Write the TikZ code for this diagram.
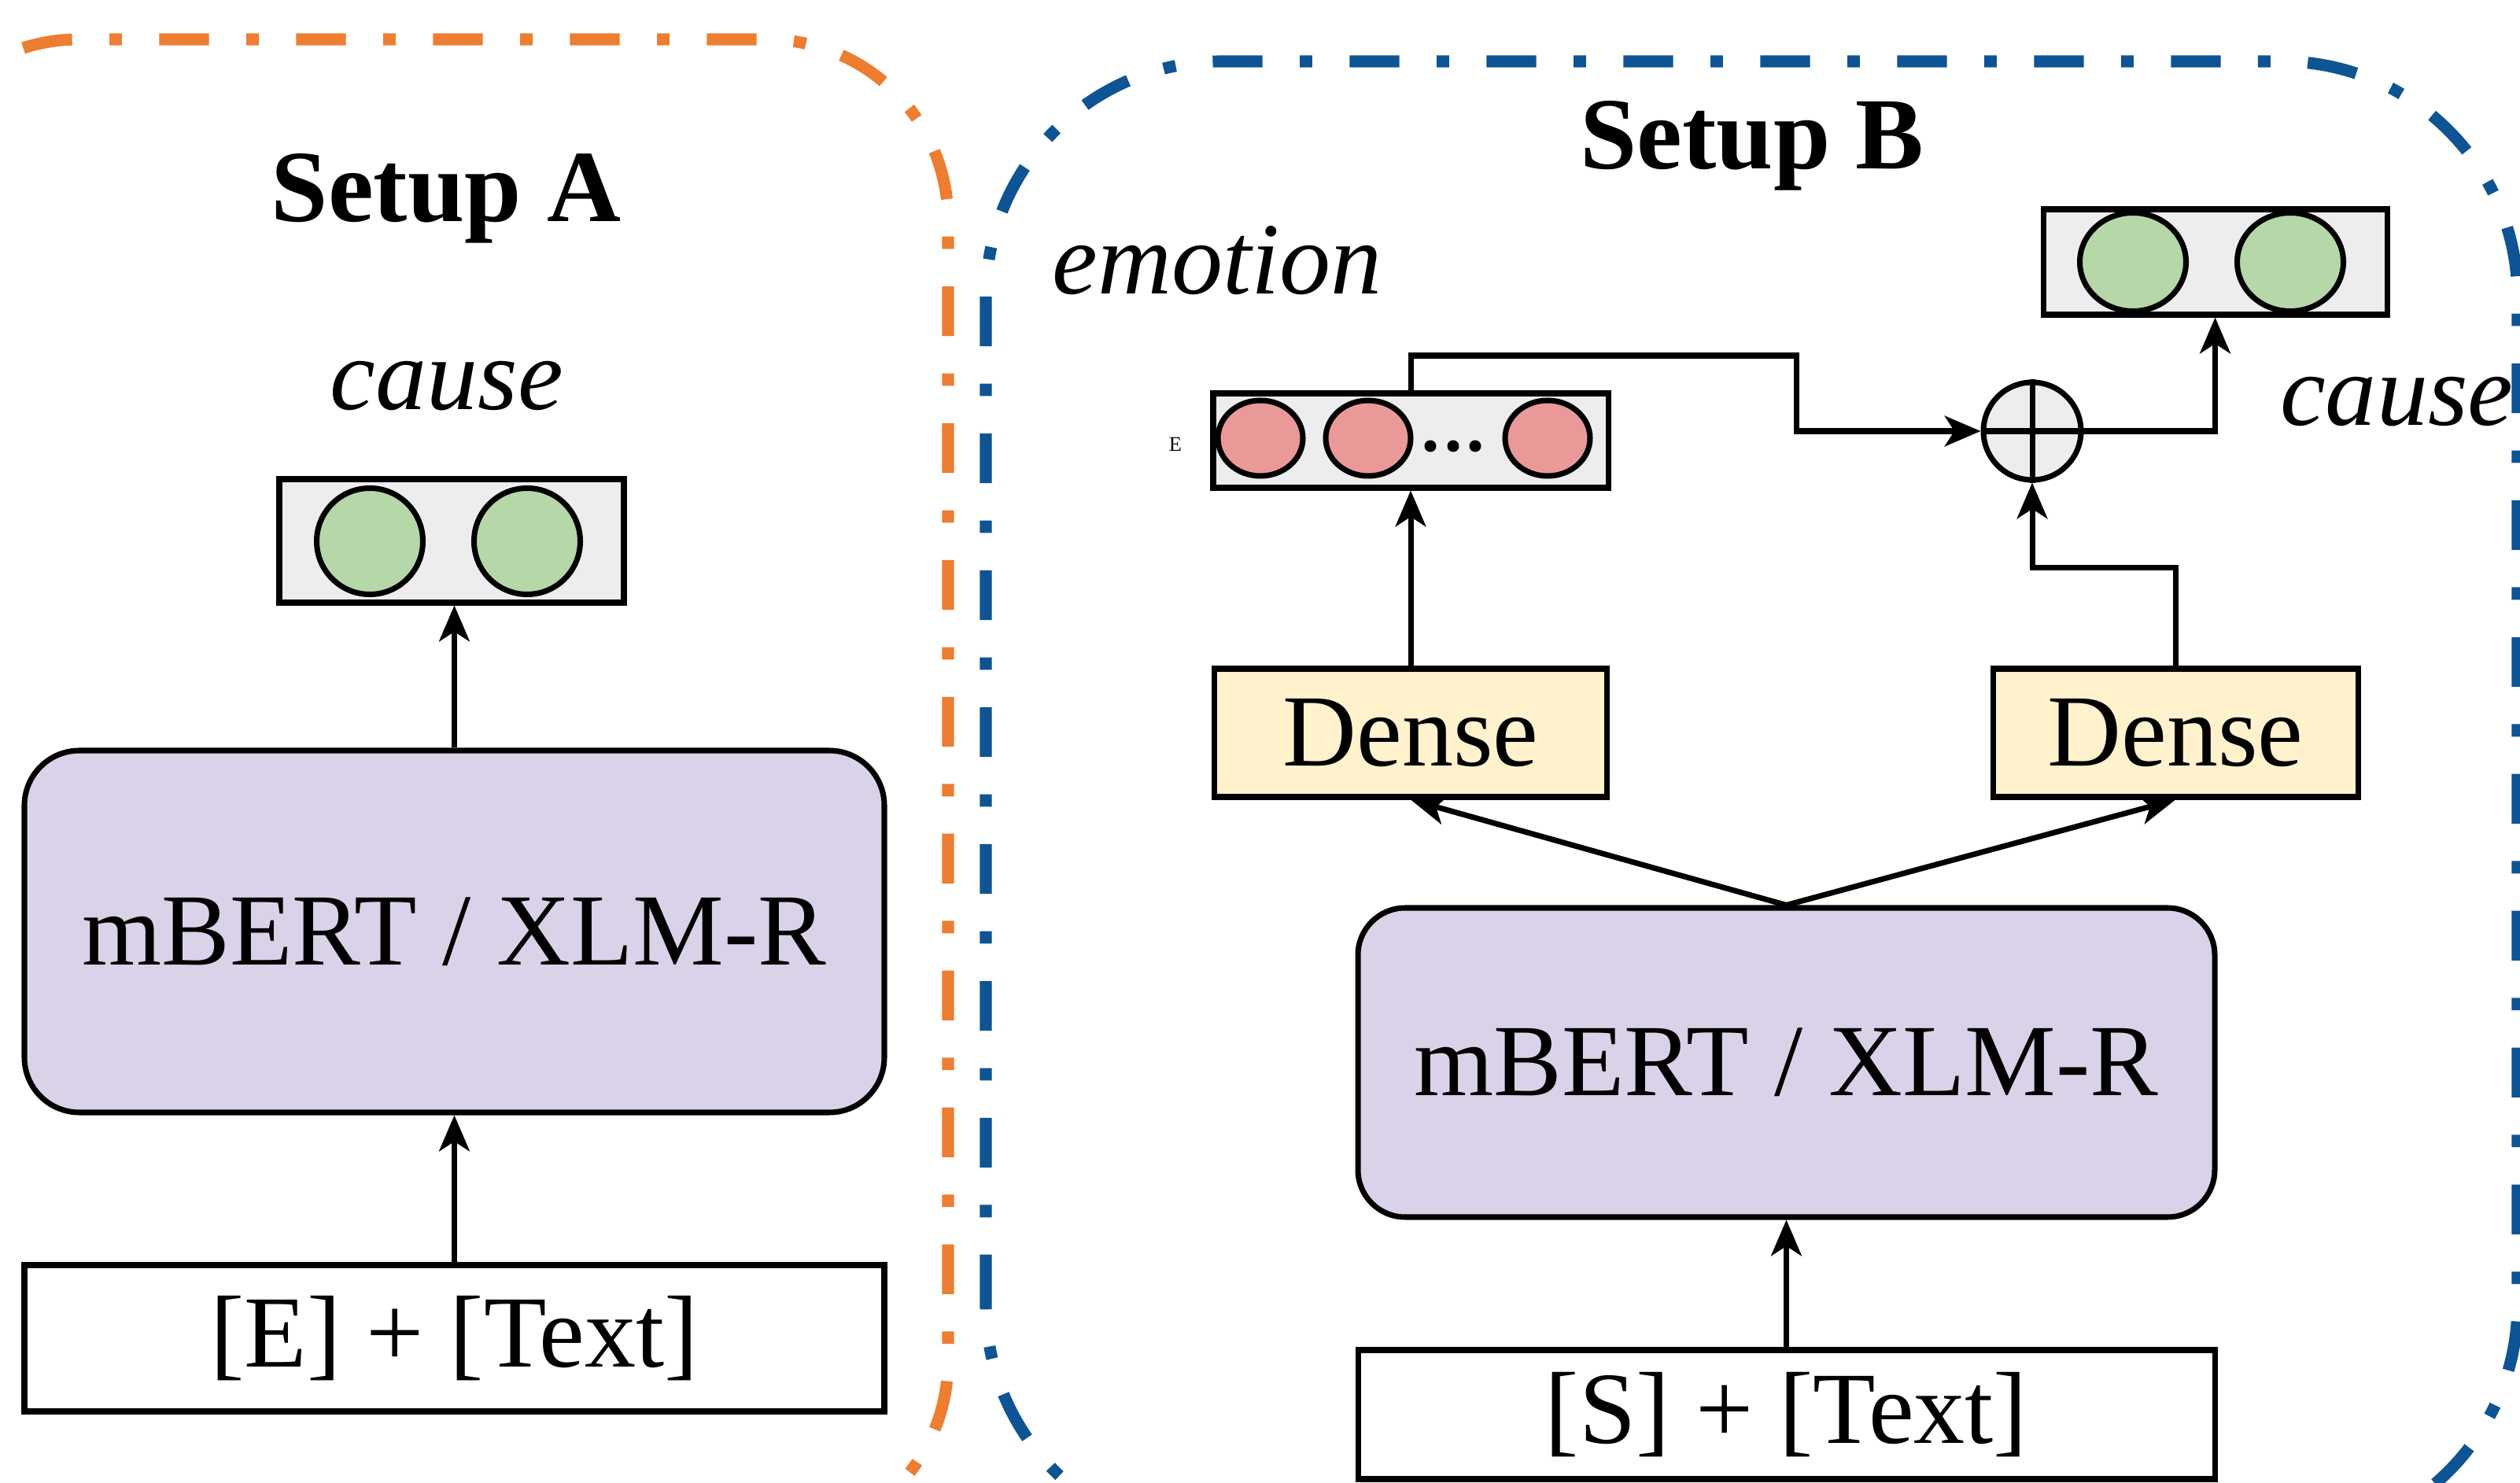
\documentclass[tikz,border=0pt]{standalone}
\usepackage{fontspec}
\setmainfont{Liberation Serif}
\usepackage{tikz}
\usetikzlibrary{arrows.meta,shapes.geometric}

\definecolor{setupA}{HTML}{ED7D31}
\definecolor{setupB}{HTML}{0E5494}
\definecolor{vecfill}{HTML}{EDEDED}
\definecolor{causefill}{HTML}{B6D7A8}
\definecolor{emofill}{HTML}{EA9999}
\definecolor{encfill}{HTML}{D9D2E9}
\definecolor{densefill}{HTML}{FFF2CC}

\begin{document}
\begin{tikzpicture}[->,>={Stealth[length=13pt,width=11pt,inset=3.5pt]},line width=2pt,
                    big/.style={font=\fontsize{37}{44}\selectfont},
                    frame/.style={-,line width=4.3pt,dash pattern=on 18pt off 13.5pt on 4.5pt off 13.5pt},
                    vec box/.style={draw,fill=vecfill,inner sep=0pt},
                    cause dot/.style={ellipse,draw,fill=causefill,inner sep=0pt,minimum width=1.35cm,minimum height=1.35cm},
                    emo dot/.style={ellipse,draw,fill=emofill,inner sep=0pt,minimum width=1.08cm,minimum height=0.96cm},
                    enc node/.style={draw,rounded corners=0.7cm,fill=encfill,inner sep=0pt,big},
                    dense node/.style={draw,fill=densefill,inner sep=0pt,minimum height=1.63cm,big},
                    in node/.style={draw,fill=white,inner sep=0pt,big}]

  \useasboundingbox (0,0) rectangle (32.03,18.84);

  % the two setups
  \draw[frame,setupA,rounded corners=2.3cm] (-1.30,-0.76) rectangle (12.05,18.34);
  \draw[frame,setupB,rounded corners=3cm] (12.53,-0.74) rectangle (32.00,18.06);

  \node[big,anchor=base] (titleA) at (5.67,16.02) {\textbf{Setup A}};
  \node[big,anchor=base] (titleB) at (22.27,16.69) {\textbf{Setup B}};

  % Setup A
  \node[in node,minimum width=10.93cm,minimum height=1.86cm] (inA) at (5.775,1.83) {[E] + [Text]};
  \node[enc node,minimum width=10.93cm,minimum height=4.60cm] (encA) at (5.775,7.00) {mBERT / XLM-R};
  \node[vec box,minimum width=4.38cm,minimum height=1.57cm] (outA) at (5.74,11.965) {};
  \node[cause dot] (a1) at (4.70,11.96) {};
  \node[cause dot] (a2) at (6.70,11.96) {};
  \node[big,anchor=base] (causeA) at (5.68,13.63) {\textit{cause}};

  \draw (inA.north) -- (encA.south);
  \draw (encA.north) -- (encA.north |- outA.south);

  % Setup B
  \node[in node,minimum width=10.89cm,minimum height=1.64cm] (inB) at (22.705,0.86) {[S] + [Text]};
  \node[enc node,rounded corners=0.6cm,minimum width=10.89cm,minimum height=3.93cm] (encB) at (22.705,5.335) {mBERT / XLM-R};
  \node[dense node,minimum width=4.99cm] (denseL) at (17.93,9.525) {Dense};
  \node[dense node,minimum width=4.64cm] (denseR) at (27.65,9.525) {Dense};

  \node[vec box,minimum width=5.02cm,minimum height=1.20cm] (emoB) at (17.93,13.24) {};
  \node[emo dot] (e1) at (16.02,13.27) {};
  \node[emo dot] (e2) at (17.39,13.27) {};
  \node[emo dot] (e3) at (19.67,13.27) {};
  \foreach \x in {18.18,18.47,18.75}
    \fill (\x,13.17) circle (0.075);
  \node[font=\fontsize{7.5}{9}\selectfont] (tagE) at (14.94,13.19) {E};
  \node[big,anchor=base] (emotion) at (15.47,15.10) {\textit{emotion}};

  \node[circle,draw,fill=vecfill,inner sep=0pt,minimum size=1.24cm] (sum) at (25.83,13.36) {};
  \draw[-] (sum.north) -- (sum.south);
  \draw[-] (sum.west) -- (sum.east);

  \node[vec box,minimum width=4.37cm,minimum height=1.34cm] (outB) at (28.155,15.51) {};
  \node[cause dot,minimum height=1.25cm] (b1) at (27.11,15.51) {};
  \node[cause dot,minimum height=1.25cm] (b2) at (29.11,15.51) {};
  \node[big,anchor=base west] (causeB) at (28.83,13.43) {\textit{cause}};

  \coordinate (bend) at (22.83,14.32);

  \draw (inB.north) -- (encB.south);
  \draw (encB.north) -- (denseL.south);
  \draw (encB.north) -- (denseR.south);
  \draw (denseL.north) -- (emoB.south);
  \draw (denseR.north) -- ++(0,1.25) -| (sum.south);
  \draw (emoB.north) |- (bend) |- (sum.west);
  \draw (sum.east) -| (outB.south);

\end{tikzpicture}
\end{document}
